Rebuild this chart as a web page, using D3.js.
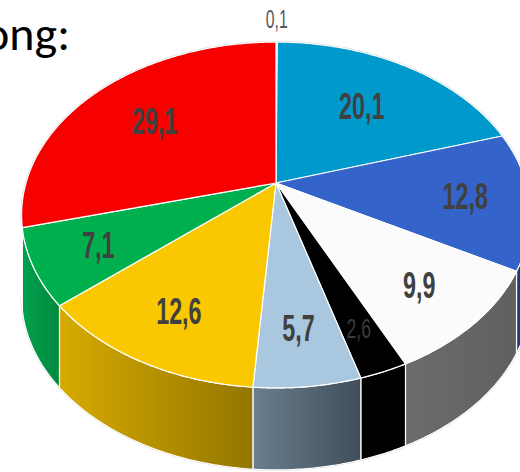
<!DOCTYPE html>
<html><head><meta charset="utf-8">
<script src="https://cdn.jsdelivr.net/npm/d3@7"></script>
<style>html,body{margin:0;padding:0;background:#fff;overflow:hidden}</style>
</head><body>
<svg id="c" width="520" height="472"></svg>
<script>
// ---- data ----
const categories = ["Sonstige", "Türkis", "Blau", "Weiß", "Schwarz", "Hellblau", "Gelb", "Grün", "Rot"];
const values = [0.1, 20.1, 12.8, 9.9, 2.6, 5.7, 12.6, 7.1, 29.1];
const valueLabels = ["0,1", "20,1", "12,8", "9,9", "2,6", "5,7", "12,6", "7,1", "29,1"];
const titleText = "ong:";

// ---- style ----
const topColors = ["#9a9a9a", "#0099cb", "#3463c9", "#fbfbfb", "#000000", "#a9c8e0", "#f9c800", "#00b04f", "#f70000"];
const sideLight = ["#777777", "#00779e", "#223d7c", "#6c6c6c", "#000000", "#6a7e8e", "#d6ab00", "#00a04b", "#c00000"];
const sideDark  = ["#555555", "#005a78", "#132650", "#606060", "#000000", "#414e5a", "#947600", "#008a3f", "#a00000"];

const cx = 276, cy = 183, R = 250, S = 167, K = 0.185, H = 82;
const svg = d3.select("#c");
const defs = svg.append("defs");

const xs = d3.scaleLinear().domain([-1, 1]).range([cx - R, cx + R]);
const ys = d3.scaleLinear().domain([-1, 1]).range([cy + S, cy - S]);
function P(t, f = 1, z = 0) {
  const u = f * Math.sin(t), v = f * Math.cos(t), w = 1 + K * v;
  return [xs(u / w), ys(v / w) + z];
}
function arcPts(a0, a1, z) {
  const n = Math.max(2, Math.ceil(Math.abs(a1 - a0) / 0.01));
  return d3.range(n + 1).map(i => P(a0 + (a1 - a0) * i / n, 1, z));
}

const pie = d3.pie().sort(null).value(d => d).startAngle(0).endAngle(2 * Math.PI);
const arcs = pie(values);
const line = d3.line();

const tA = Math.acos(-K), tB = 2 * Math.PI - tA;

// faint outer outline
svg.append("path")
  .attr("d", line(arcPts(0, 2 * Math.PI, 0)) + "Z")
  .attr("fill", "none").attr("stroke", "#cfcfcf").attr("stroke-width", 2);
svg.append("path")
  .attr("d", line(arcPts(tA, tB, H)))
  .attr("fill", "none").attr("stroke", "#dcdcdc").attr("stroke-width", 2);

// side walls (light on the left, dark on the right)
arcs.forEach((d, i) => {
  const s = Math.max(d.startAngle, tA), e = Math.min(d.endAngle, tB);
  if (e <= s) return;
  const gid = "g" + i;
  const g = defs.append("linearGradient").attr("id", gid)
    .attr("gradientUnits", "userSpaceOnUse")
    .attr("x1", P(e)[0]).attr("x2", P(s)[0]).attr("y1", 0).attr("y2", 0);
  g.append("stop").attr("offset", "0%").attr("stop-color", sideLight[i]);
  g.append("stop").attr("offset", "100%").attr("stop-color", sideDark[i]);
  const pts = arcPts(s, e, 0).concat(arcPts(e, s, H));
  svg.append("path").attr("d", line(pts) + "Z")
    .attr("fill", `url(#${gid})`)
    .attr("stroke", "#ffffff").attr("stroke-width", 1.2).attr("stroke-linejoin", "round");
});

// top faces
arcs.forEach((d, i) => {
  const pts = [[cx, cy]].concat(arcPts(d.startAngle, d.endAngle, 0));
  svg.append("path").attr("d", line(pts) + "Z")
    .attr("fill", topColors[i])
    .attr("stroke", "#ffffff").attr("stroke-width", 1.2).attr("stroke-linejoin", "round");
});

// labels
const labelFont = "'Liberation Sans', Arial, sans-serif";
arcs.forEach((d, i) => {
  const mid = (d.startAngle + d.endAngle) / 2;
  const v = Math.cos(mid);
  let f = 0.75 - 0.15 * Math.max(v, 0), size = 37, weight = "bold", col = "#404040";
  if (values[i] < 1) { f = 1.2; size = 25; weight = "normal"; col = "#595959"; }
  else if (values[i] < 3) { f = 0.8; size = 28; weight = "normal"; col = "#3a3a3a"; }
  const [x, y] = P(mid, f);
  svg.append("text")
    .attr("transform", `translate(${x},${y}) scale(0.63,1)`)
    .attr("text-anchor", "middle").attr("dy", "0.36em")
    .attr("font-family", labelFont).attr("font-size", size)
    .attr("font-weight", weight).attr("fill", col)
    .text(valueLabels[i]);
});

// title fragment (cut off at the left edge, as in the reference)
svg.append("text")
  .attr("x", 70).attr("y", 50).attr("text-anchor", "end")
  .attr("font-family", "Carlito, Lato, 'Open Sans', sans-serif")
  .attr("font-size", 48).attr("fill", "#000")
  .text(titleText);
</script>
</body></html>
